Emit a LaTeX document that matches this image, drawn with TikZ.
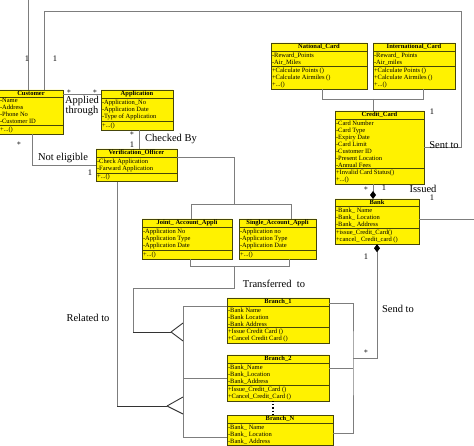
\documentclass[tikz,border=0pt]{standalone}
\usepackage{fontspec}
\setmainfont{Liberation Serif}
\usetikzlibrary{shapes.multipart,arrows.meta}

\definecolor{boxline}{RGB}{70,70,10}
\definecolor{linkgrey}{RGB}{125,125,125}
\newcommand\ctitle[1]{{\fontsize{6.5}{7}\selectfont\bfseries #1}}

\tikzset{
  umlclass/.style={rectangle split, rectangle split parts=3, draw=boxline, fill=yellow,
    line width=0.8pt, anchor=north west, align=left, inner xsep=1pt, inner ysep=1pt,
    outer sep=0pt, rectangle split part align={center,left,left},
    font=\fontsize{6.5}{7}\selectfont},
  link/.style={draw=linkgrey, line width=0.9pt},
  foot/.style={draw=black!80, line width=0.9pt},
  lbl/.style={font=\fontsize{10.5}{10}\selectfont, inner sep=0pt, align=center},
  mult/.style={font=\fontsize{8.5}{8.5}\selectfont, inner sep=0pt},
  Compo/.tip={Diamond[length=8pt,width=6pt,color=black]}
}

\begin{document}
\begin{tikzpicture}[x=1pt,y=-1pt]
  \useasboundingbox (0,0) rectangle (474,446);
  \clip (0,0) rectangle (474,446);

  % classes
  \node[umlclass, minimum width=64pt] (customer) at (-1,90)
    {\ctitle{Customer}\nodepart{second}-Name\\-Address\\-Phone No\\-Customer ID\nodepart{third}+...()};
  \node[umlclass, minimum width=72pt] (application) at (101,90)
    {\ctitle{Application}\nodepart{second}-Application\_No\\-Application Date\\-Type of Application\nodepart{third}+...()};
  \node[umlclass, minimum width=81pt] (verif) at (96,149)
    {\ctitle{Verification\_Officer}\nodepart{second}-Check Application\\-Farward Application\nodepart{third}+...()};
  \node[umlclass, minimum width=90pt] (joint) at (142,219)
    {\ctitle{Joint\_ Account\_Appli}\nodepart{second}-Application No\\-Application Type\\-Application Date\nodepart{third}+...()};
  \node[umlclass, minimum width=77pt] (single) at (239,219)
    {\ctitle{Single\_Account\_Appli}\nodepart{second}-Application no\\-Application Type\\-Application Date\nodepart{third}+...()};
  \node[umlclass, minimum width=96pt] (natcard) at (271,43)
    {\ctitle{National\_Card}\nodepart{second}-Reward\_Points\\-Air\_Miles\nodepart{third}+Calculate Points ()\\+Calculate Airmiles ()\\+...()};
  \node[umlclass, minimum width=82pt] (intcard) at (373,43)
    {\ctitle{International\_Card}\nodepart{second}-Reward\_ Points\\-Air\_miles\nodepart{third}+Calculate Points ()\\+Calculate Airmiles ()\\+...()};
  \node[umlclass, minimum width=89pt] (credit) at (335,111)
    {\ctitle{Credit\_Card}\nodepart{second}-Card Number\\-Card Type\\-Expiry Date\\-Card Limit\\-Customer ID\\-Present Location\\-Annual Fees\nodepart{third}+Invalid Card Status()\\+...()};
  \node[umlclass, minimum width=84pt] (bank) at (335,199)
    {\ctitle{Bank}\nodepart{second}-Bank\_ Name\\-Bank\_ Location\\-Bank\_ Address\nodepart{third}+issue\_Credit\_Card()\\+cancel\_ Credit\_card ()};
  \node[umlclass, minimum width=102pt] (branchOne) at (227,298)
    {\ctitle{Branch\_1}\nodepart{second}-Bank Name\\-Bank Location\\-Bank Address\nodepart{third}+Issue Credit Card ()\\+Cancel Credit Card ()};
  \node[umlclass, minimum width=102pt] (branchTwo) at (227,355)
    {\ctitle{Branch\_2}\nodepart{second}-Bank\_Name\\-Bank\_Location\\-Bank\_Address\nodepart{third}+Issue\_Credit\_Card ()\\+Cancel\_Credit\_Card ()};
  \node[umlclass, minimum width=106pt] (branchN) at (227,415)
    {\ctitle{Branch\_N}\nodepart{second}-Bank\_ Name\\-Bank\_ Location\\-Bank\_ Address\nodepart{third}\mbox{}\\\mbox{}};

  % free ends and bends
  \coordinate (custUp) at (28,-4);
  \coordinate (sentL) at (44,11);
  \coordinate (sentR) at (461,11);
  \coordinate (neX) at (32,0);
  \coordinate (chkX) at (139,0);
  \coordinate (genTop) at (234,204);
  \coordinate (jTop) at (191,204);
  \coordinate (sTop) at (291,204);
  \coordinate (jBot) at (190,266);
  \coordinate (sBot) at (289,266);
  \coordinate (trA) at (234,288);
  \coordinate (trB) at (133,332);
  \coordinate (footA) at (171,332);
  \coordinate (footB) at (167,406);
  \coordinate (relX) at (117,0);
  \coordinate (bus) at (183,0);
  \coordinate (sendA) at (353,358);
  \coordinate (issX) at (373,0);
  \coordinate (ncB) at (322,99);
  \coordinate (icB) at (423,99);
  \coordinate (bankOut) at (480,219);
  \coordinate (dotX) at (273,0);
  \coordinate (nEnd) at (0,437);

  % connectors
  \draw[link] (custUp |- customer.north) -- (custUp);
  \draw[link] (sentL |- customer.north) -- (sentL) -- (sentR) |- (credit.east);
  \draw[link] ([yshift=-4pt]customer.north east) -- ([yshift=-4pt]application.north west);
  \draw[link] (neX |- customer.south) -- (neX |- verif.west) -- (verif.west);
  \draw[link] (chkX |- application.south) -- (chkX |- verif.north);

  \draw[link] ([yshift=-8pt]verif.north east) -| (genTop);
  \draw[link] (jTop |- joint.north) -- (jTop) -- (sTop) -- (sTop |- single.north);
  \draw[link] (jBot |- joint.south) -- (jBot) -- (sBot) -- (sBot |- single.south);
  \draw[link] (trA |- jBot) -- (trA) -| (trB);
  \draw[foot] (trB) -- (footA);
  \draw[foot] (footA) -- ++(12,-9) (footA) -- ++(12,9);
  \draw[link] (relX |- verif.south) -- (relX |- footB);
  \draw[foot] (relX |- footB) -- (footB);
  \draw[foot] (footB) -- ++(16,-9) (footB) -- ++(16,8);

  \draw[link] (branchOne.one split west) -| (bus |- nEnd) -- (branchN.west |- nEnd);
  \draw[link] (branchTwo.west) -- (bus |- branchTwo.west);
  \draw[black, dotted, line width=1.2pt] (dotX |- branchTwo.south) -- (dotX |- branchN.north);

  \draw[link] ([yshift=-5pt]branchOne.north east) -| (sendA) |- ([yshift=-18pt]branchN.north east);
  \draw[link] ([yshift=-13pt]branchTwo.north east) coordinate (b2e) -- (sendA |- b2e);
  \draw[link, Compo-] (bank.south) |- (sendA);
  \draw[link, -Compo] (issX |- credit.south) -- (issX |- bank.north);
  \draw[link] (ncB |- natcard.south) -- (ncB) -- (icB) -- (icB |- intcard.south);
  \draw[link] (issX |- ncB) -- (issX |- credit.north);
  \draw[link] (bank.east |- bankOut) -- (bankOut);

  % labels
  \node[mult] (mCustA) at (27,59) {1};
  \node[mult] (mCustB) at (55,59) {1};
  \node[mult] (mSentCard) at (432,112) {1};
  \node[lbl] (lSent) at (444,145) {Sent to};
  \node[mult] (mApA) at (69,92) {$\ast$};
  \node[mult] (mApB) at (95,92) {$\ast$};
  \node[lbl] (lApplied) at (82,106) {Applied\\through};
  \node[mult] (mNeA) at (19,144) {$\ast$};
  \node[lbl] (lNe) at (63,158) {Not eligible};
  \node[mult] (mNeB) at (90,173) {1};
  \node[mult] (mChkA) at (132,134) {$\ast$};
  \node[mult] (mChkB) at (132,145) {1};
  \node[lbl] (lChk) at (171,139) {Checked By};
  \node[lbl] (lTrans) at (274,284) {Transferred\ \ to};
  \node[lbl] (lRel) at (88,318) {Related to};
  \node[lbl] (lSend) at (398,309) {Send to};
  \node[mult] (mSendA) at (366,257) {1};
  \node[mult] (mSendB) at (366,352) {$\ast$};
  \node[lbl] (lIss) at (423,189) {Issued};
  \node[mult] (mIssA) at (366,189) {$\ast$};
  \node[mult] (mIssB) at (384,188) {1};
  \node[mult] (mIssC) at (432,198) {1};
\end{tikzpicture}
\end{document}
